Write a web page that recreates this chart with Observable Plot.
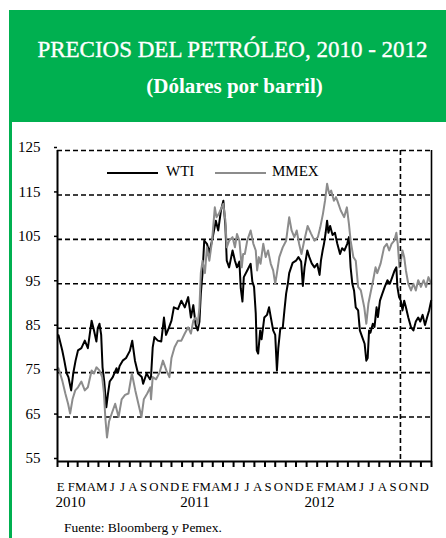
<!DOCTYPE html>
<html><head><meta charset="utf-8">
<script src="https://cdn.jsdelivr.net/npm/d3@7"></script>
<script src="https://cdn.jsdelivr.net/npm/@observablehq/plot@0.6"></script>
<style>
html,body{margin:0;padding:0;background:#fff;}
body{width:446px;height:538px;position:relative;overflow:hidden;font-family:"Liberation Serif","Times New Roman",Tinos,serif;color:#000;}
#header{position:absolute;left:9px;top:10px;width:437px;height:112px;background:#00b050;}
#leftbar{position:absolute;left:9px;top:122px;width:3px;height:416px;background:#00b050;}
.ttl{position:absolute;left:0;width:100%;text-align:center;color:#fff;white-space:nowrap;line-height:1;}
#title{top:28px;font-size:23px;-webkit-text-stroke:0.35px #fff;padding-left:10px;box-sizing:border-box;}
#subtitle{top:66px;font-size:21px;font-weight:bold;padding-left:14px;box-sizing:border-box;}
#chart{position:absolute;left:13px;top:130px;}
.lg-line{position:absolute;height:0;border-top:2px solid;}
.lg-text{position:absolute;font-size:15px;line-height:1;white-space:nowrap;}
#footer{position:absolute;left:64px;top:521px;font-size:13.5px;line-height:1;white-space:nowrap;}
</style></head>
<body>
<div id="header">
  <div id="title" class="ttl">PRECIOS DEL PETRÓLEO, 2010 - 2012</div>
  <div id="subtitle" class="ttl">(Dólares por barril)</div>
</div>
<div id="leftbar"></div>
<div id="chart"></div>
<div class="lg-line" style="left:107px;top:172px;width:51px;border-color:#000;"></div>
<div class="lg-text" style="left:166px;top:164px;">WTI</div>
<div class="lg-line" style="left:215px;top:172px;width:51px;border-color:#8c8c8c;"></div>
<div class="lg-text" style="left:272px;top:164px;">MMEX</div>
<div id="footer">Fuente: Bloomberg y Pemex.</div>
<script>
const monthLetters = ["E","F","M","A","M","J","J","A","S","O","N","D"];
const years = [2010, 2011, 2012];
const yTicks = [55, 65, 75, 85, 95, 105, 115, 125];
const markerDate = "2012-10-02";

const wti = [
["2010-01-04",83.4],["2010-01-15",80],["2010-01-21",77.7],["2010-01-28",74.8],["2010-02-02",74],["2010-02-10",71],["2010-02-16",74.8],["2010-02-23",77.7],["2010-03-02",80],["2010-03-12",80.5],["2010-03-22",82.2],["2010-03-31",80.5],["2010-04-11",86.7],["2010-04-18",84.5],["2010-04-25",82],["2010-04-29",85],["2010-05-04",86],["2010-05-09",83.5],["2010-05-13",76.2],["2010-05-18",73],["2010-05-24",67.2],["2010-05-29",70.3],["2010-06-03",73],["2010-06-12",74],["2010-06-23",76],["2010-06-27",75],["2010-07-02",76.5],["2010-07-11",77.7],["2010-07-21",78.3],["2010-08-01",79.9],["2010-08-08",82.2],["2010-08-16",77.7],["2010-08-25",74.8],["2010-09-05",74],["2010-09-09",72.5],["2010-09-19",74.8],["2010-09-29",73.5],["2010-10-02",74],["2010-10-07",80.7],["2010-10-12",83],["2010-10-22",82.2],["2010-11-01",82],["2010-11-09",87.4],["2010-11-15",83.5],["2010-11-23",85],["2010-12-01",86.7],["2010-12-08",89.7],["2010-12-20",89.3],["2010-12-30",91.2],
["2011-01-09",89.7],["2011-01-19",92],["2011-01-27",87.4],["2011-02-03",90.2],["2011-02-10",85.7],["2011-02-16",84.5],["2011-02-21",86.5],["2011-02-25",92.8],["2011-03-02",97.4],["2011-03-07",104.7],["2011-03-15",104],["2011-03-22",102],["2011-04-01",105.5],["2011-04-10",109.2],["2011-04-17",107],["2011-04-25",111.5],["2011-05-02",113.7],["2011-05-08",108],["2011-05-12",100.2],["2011-05-19",98.7],["2011-05-29",102.5],["2011-06-05",100.2],["2011-06-11",98.7],["2011-06-18",100],["2011-06-22",94],["2011-06-27",91],["2011-07-01",96.5],["2011-07-11",98],["2011-07-21",99.5],["2011-07-26",95.5],["2011-07-31",94.3],["2011-08-05",88.3],["2011-08-08",80],["2011-08-12",79.3],["2011-08-18",84.5],["2011-08-22",82.5],["2011-08-30",87.4],["2011-09-07",88],["2011-09-13",89.7],["2011-09-18",87.5],["2011-09-25",84.5],["2011-10-01",83.5],["2011-10-06",75.5],["2011-10-10",80.5],["2011-10-16",85],["2011-10-23",85],["2011-10-28",89],["2011-11-02",92.8],["2011-11-07",95],["2011-11-11",97.4],["2011-11-21",99.7],["2011-12-01",100.2],["2011-12-08",101],["2011-12-16",100],["2011-12-21",94.5],["2011-12-26",98.7],
["2012-01-03",102.5],["2012-01-09",101],["2012-01-16",99.6],["2012-01-24",98.7],["2012-02-01",99.5],["2012-02-08",97],["2012-02-12",100.2],["2012-02-17",102.5],["2012-02-21",104],["2012-02-26",106.6],["2012-03-01",109.2],["2012-03-05",106.5],["2012-03-10",108],["2012-03-17",106],["2012-03-24",106.5],["2012-03-31",104],["2012-04-08",101.7],["2012-04-14",103],["2012-04-21",102.5],["2012-04-29",104],["2012-05-04",105.5],["2012-05-09",98.7],["2012-05-14",95],["2012-05-19",93.5],["2012-05-24",89.7],["2012-05-31",89],["2012-06-05",84.5],["2012-06-12",83],["2012-06-19",81.5],["2012-06-24",77.7],["2012-06-28",78.3],["2012-07-02",84.5],["2012-07-06",84],["2012-07-13",86],["2012-07-18",85.3],["2012-07-24",89.7],["2012-07-28",87.5],["2012-08-03",91.2],["2012-08-10",92.8],["2012-08-17",94.3],["2012-08-25",95.8],["2012-09-01",95],["2012-09-08",96.5],["2012-09-15",98],["2012-09-20",98.7],["2012-09-23",94.3],["2012-09-28",92],["2012-10-03",91.2],["2012-10-08",89],["2012-10-13",91.2],["2012-10-18",89.7],["2012-10-25",87.4],["2012-11-02",85.2],["2012-11-09",84.5],["2012-11-16",86.5],["2012-11-23",87.4],["2012-11-29",86.5],["2012-12-06",88],["2012-12-13",85.7],["2012-12-19",87.4],["2012-12-25",89],["2012-12-31",91.2]
];

const mmex = [
["2010-01-04",76],["2010-01-15",73.2],["2010-01-24",70.3],["2010-02-01",68],["2010-02-07",65.8],["2010-02-14",69],["2010-02-22",71],["2010-03-02",71.7],["2010-03-12",73],["2010-03-22",71],["2010-03-31",71.7],["2010-04-11",75.5],["2010-04-18",74.8],["2010-04-25",76.2],["2010-05-04",75.5],["2010-05-12",74],["2010-05-17",70.5],["2010-05-21",65],["2010-05-26",60.4],["2010-06-01",64],["2010-06-09",65.8],["2010-06-19",68],["2010-06-29",65],["2010-07-08",69],["2010-07-18",70],["2010-07-28",70.3],["2010-08-07",74.8],["2010-08-17",71],["2010-08-26",68],["2010-09-04",65],["2010-09-11",69],["2010-09-21",70.3],["2010-09-30",71.7],["2010-10-02",69],["2010-10-07",74],["2010-10-17",73.5],["2010-10-27",75],["2010-11-06",77.7],["2010-11-16",75.5],["2010-11-25",74],["2010-12-01",78.3],["2010-12-10",80.7],["2010-12-20",82.2],["2010-12-30",82.2],
["2011-01-09",83.8],["2011-01-19",85.2],["2011-01-27",83.8],["2011-02-03",86.7],["2011-02-10",87.4],["2011-02-16",86],["2011-02-21",89.7],["2011-02-25",97.4],["2011-03-02",100.2],["2011-03-09",97.4],["2011-03-15",103.2],["2011-03-22",100.2],["2011-03-30",104.7],["2011-04-07",112.2],["2011-04-12",110],["2011-04-19",110.8],["2011-04-27",112.2],["2011-05-02",113],["2011-05-08",109.2],["2011-05-12",103.2],["2011-05-19",104.7],["2011-05-29",105.5],["2011-06-05",103.2],["2011-06-11",106.2],["2011-06-18",104.7],["2011-06-25",98.7],["2011-06-29",101.7],["2011-07-04",101.7],["2011-07-11",104.7],["2011-07-21",107],["2011-07-29",104],["2011-08-05",102.5],["2011-08-09",98],["2011-08-14",101],["2011-08-19",99.5],["2011-08-27",104],["2011-09-03",101],["2011-09-10",102.5],["2011-09-18",99.5],["2011-09-25",98],["2011-10-01",95],["2011-10-06",97.4],["2011-10-13",101],["2011-10-23",103.2],["2011-11-02",104.7],["2011-11-11",110],["2011-11-18",107],["2011-11-26",105.5],["2011-12-03",107],["2011-12-10",104],["2011-12-17",101.7],["2011-12-25",104.7],
["2012-01-04",108],["2012-01-14",106.3],["2012-01-24",104.7],["2012-02-03",105.5],["2012-02-10",107.7],["2012-02-18",110.8],["2012-02-24",113.7],["2012-03-01",117.5],["2012-03-07",115.3],["2012-03-13",116],["2012-03-21",113.7],["2012-03-27",114.5],["2012-03-31",113.7],["2012-04-10",111.5],["2012-04-20",110],["2012-04-28",112.2],["2012-05-04",108.5],["2012-05-09",104.7],["2012-05-17",101],["2012-05-24",100.2],["2012-05-31",94.3],["2012-06-08",93.5],["2012-06-18",89.7],["2012-06-24",86],["2012-06-30",90.5],["2012-07-06",92.8],["2012-07-14",95.8],["2012-07-21",98.7],["2012-07-26",97.4],["2012-08-05",99.6],["2012-08-15",103.2],["2012-08-23",104],["2012-08-30",102.5],["2012-09-06",104],["2012-09-14",104.7],["2012-09-20",106.5],["2012-09-24",104],["2012-09-29",98.7],["2012-10-03",100],["2012-10-08",102.5],["2012-10-13",101],["2012-10-18",98],["2012-10-25",95],["2012-11-02",93.5],["2012-11-09",95],["2012-11-16",93.5],["2012-11-23",95.8],["2012-12-01",94.3],["2012-12-09",95.8],["2012-12-16",94.3],["2012-12-23",96.5],["2012-12-31",95]
];

const toRows = arr => arr.map(([d, v]) => ({date: new Date(d), value: v}));
const wtiRows = toRows(wti);
const mmexRows = toRows(mmex);

const start = new Date(Date.UTC(years[0], 0, 1));
const end = new Date(Date.UTC(years[years.length - 1] + 1, 0, 1));
const monthStarts = d3.utcMonth.range(start, d3.utcDay.offset(end, 1));
const monthMids = d3.utcMonth.range(start, end).map(d => new Date(Date.UTC(d.getUTCFullYear(), d.getUTCMonth(), 16)));
const yearPos = years.map(y => new Date(Date.UTC(y, 1, 8)));
const gridVals = yTicks.slice(1);
const FONT = "'Liberation Serif','Times New Roman',Tinos,serif";

const chart = Plot.plot({
  width: 433,
  height: 380,
  marginLeft: 44,
  marginRight: 15,
  marginTop: 20,
  marginBottom: 49,
  style: {fontFamily: FONT, fontSize: "15px", background: "white", color: "black", overflow: "visible"},
  x: {type: "utc", domain: [start, end]},
  y: {domain: [55, 125]},
  marks: [
    Plot.ruleY(gridVals, {stroke: "black", strokeWidth: 1.6, strokeDasharray: "5,3"}),
    Plot.line(wtiRows, {x: "date", y: "value", stroke: "black", strokeWidth: 2}),
    Plot.line(mmexRows, {x: "date", y: "value", stroke: "#8c8c8c", strokeWidth: 2}),
    Plot.ruleX([new Date(markerDate)], {stroke: "black", strokeWidth: 1.6, strokeDasharray: "5,3"}),
    Plot.ruleX([start], {stroke: "black", strokeWidth: 2}),
    Plot.ruleX([end], {stroke: "black", strokeWidth: 1.6}),
    Plot.ruleY([55], {stroke: "black", strokeWidth: 2}),
    Plot.axisY({ticks: yTicks, tickSize: 3, tickPadding: 14, dy: -3, tickFormat: d => String(d), fontSize: 15, strokeWidth: 1.5, label: null}),
    Plot.axisX({ticks: monthStarts, tickSize: 6, tickFormat: () => "", strokeWidth: 2, label: null}),
    Plot.axisX({ticks: monthMids, tickSize: 0, tickPadding: 20, dx: -2, tickFormat: d => monthLetters[d.getUTCMonth()], fontSize: 12.8, label: null}),
    Plot.axisX({ticks: yearPos, tickSize: 0, tickPadding: 35, tickFormat: d => String(d.getUTCFullYear()), fontSize: 15, label: null})
  ]
});
document.getElementById("chart").appendChild(chart);
</script>
</body></html>
